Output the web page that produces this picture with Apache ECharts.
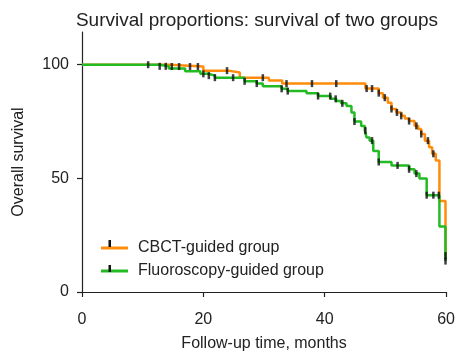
<!DOCTYPE html>
<html>
<head>
<meta charset="utf-8">
<script src="https://cdn.jsdelivr.net/npm/echarts@6/dist/echarts.min.js"></script>
<style>
html,body{margin:0;padding:0;background:#fff;}
#c{width:458px;height:357px;}
</style>
</head>
<body>
<div id="c"></div>
<script>
// Kaplan-Meier step data (time in months, survival %)
const cbctTimes = [0, 14.5, 20.0, 24.1, 26.0, 30.8, 33.0, 46.7, 48.9, 49.6, 50.4, 51.0, 51.8, 52.6, 53.2, 53.9, 54.8, 55.4, 55.9, 56.5, 57.2, 57.7, 58.3, 58.9, 59.9];
const cbctSurv  = [100, 99.2, 97.4, 96.6, 94.3, 93.1, 91.7, 89.5, 87.5, 85.5, 83.3, 80.5, 79.0, 77.5, 76.3, 75.2, 73.1, 71.7, 69.5, 66.6, 63.7, 60.8, 57.9, 40.0, 16.0];
const fluoTimes = [0, 12.8, 14.3, 17.0, 19.5, 20.8, 21.9, 26.8, 28.8, 29.8, 32.9, 33.9, 37.0, 38.9, 41.0, 41.9, 42.7, 43.6, 44.4, 44.9, 46.0, 46.6, 46.9, 47.4, 48.0, 48.9, 51.0, 53.9, 54.8, 55.6, 56.8, 58.9, 59.9];
const fluoSurv  = [100, 99.3, 98.3, 97.1, 96.0, 95.2, 94.3, 92.7, 91.7, 90.5, 89.4, 88.4, 87.4, 86.2, 85.0, 84.0, 83.0, 81.8, 79.0, 75.0, 73.0, 71.0, 68.0, 66.6, 62.0, 57.2, 55.7, 54.0, 52.1, 49.9, 42.6, 28.8, 13.6];
// censored observation times
const cbctCensor = [10.9, 14.8, 16.0, 17.8, 19.1, 23.9, 29.8, 33.7, 37.9, 41.9, 46.9, 47.8, 48.9, 49.9, 51.0, 51.9, 52.6, 53.9, 55.1, 55.9, 57.0, 57.9, 59.9];
const fluoCensor = [12.8, 13.8, 20.0, 20.9, 21.9, 24.9, 26.8, 28.8, 32.9, 33.9, 38.9, 40.9, 41.8, 42.9, 44.9, 46.7, 47.8, 48.9, 52.0, 53.9, 55.1, 56.8, 57.9, 58.8, 59.9];
const xTicks = [0, 20, 40, 60];
const yTicks = [0, 50, 100];
const seriesNames = ['CBCT-guided group', 'Fluoroscopy-guided group'];
const colors = ['#ff8c0a', '#22bb22'];

function pairs(t, v){ return t.map((x,i)=>[x, v[i]]); }
function survAt(t, times, surv){
  let v = surv[0];
  for (let i=0;i<times.length;i++){ if (times[i] <= t + 1e-9) v = surv[i]; }
  return v;
}
const cbctCensorPts = cbctCensor.map(t=>[t, survAt(t, cbctTimes, cbctSurv)]);
const fluoCensorPts = fluoCensor.map(t=>[t, survAt(t, fluoTimes, fluoSurv)]);

const font = 'Liberation Sans, Arial, Helvetica, sans-serif';
const chart = echarts.init(document.getElementById('c'), null, {renderer:'canvas'});
chart.setOption({
  animation: false,
  backgroundColor: '#fff',
  title: {
    text: 'Survival proportions: survival of two groups',
    left: 252, top: 6, textAlign: 'center',
    textStyle: {fontFamily: font, fontSize: 19, fontWeight: 'normal', color: '#222'}
  },
  grid: {left: 82, right: 11.5, top: 32, bottom: 62.5},
  legend: {
    data: seriesNames,
    orient: 'vertical',
    left: 96, top: 235,
    itemWidth: 27, itemHeight: 3, itemGap: 7,
    icon: 'rect',
    textStyle: {fontFamily: font, fontSize: 16, color: '#222', padding: [0, 0, 0, 5]},
    selectedMode: false
  },
  graphic: [
    {type:'rect', left: 108.5, top: 240, shape:{width:2.5, height:7}, style:{fill:'#111'}, z: 100},
    {type:'rect', left: 108.5, top: 265, shape:{width:2.5, height:7}, style:{fill:'#111'}, z: 100}
  ],
  xAxis: {
    type: 'value', min: 0, max: 60, interval: 20,
    name: 'Follow-up time, months', nameLocation: 'middle', nameGap: 44,
    nameTextStyle: {fontFamily: font, fontSize: 16, color: '#222'},
    axisLine: {show: true, onZero: false, lineStyle: {color: '#222', width: 1.2}},
    axisTick: {show: true, length: 5, inside: false, customValues: xTicks, lineStyle: {color:'#222', width: 1.2}},
    axisLabel: {fontFamily: font, fontSize: 16, color: '#222', margin: 20, customValues: xTicks},
    splitLine: {show: false}
  },
  yAxis: {
    type: 'value', min: 0, max: 114.4,
    name: 'Overall survival', nameLocation: 'middle', nameGap: 55, nameRotate: 90,
    nameTextStyle: {fontFamily: font, fontSize: 16, color: '#222'},
    axisLine: {show: true, onZero: false, lineStyle: {color: '#222', width: 1.2}},
    axisTick: {show: true, length: 5, inside: false, customValues: yTicks, lineStyle: {color:'#222', width: 1.2}},
    axisLabel: {fontFamily: font, fontSize: 16, color: '#222', margin: 13, customValues: yTicks},
    splitLine: {show: false}
  },
  series: [
    {name: seriesNames[0], type: 'line', step: 'end', data: pairs(cbctTimes, cbctSurv),
     showSymbol: false, symbol: 'none', lineStyle: {color: colors[0], width: 2.5}, itemStyle: {color: colors[0]}, z: 2},
    {name: seriesNames[1], type: 'line', step: 'end', data: pairs(fluoTimes, fluoSurv),
     showSymbol: false, symbol: 'none', lineStyle: {color: colors[1], width: 2.5}, itemStyle: {color: colors[1]}, z: 3},
    {name: 'cbct-censor', type: 'scatter', data: cbctCensorPts, symbol: 'rect', symbolSize: [2.5, 7],
     itemStyle: {color: '#111'}, z: 5, silent: true},
    {name: 'fluo-censor', type: 'scatter', data: fluoCensorPts, symbol: 'rect', symbolSize: [2.5, 7],
     itemStyle: {color: '#111'}, z: 5, silent: true}
  ]
});
</script>
</body>
</html>
